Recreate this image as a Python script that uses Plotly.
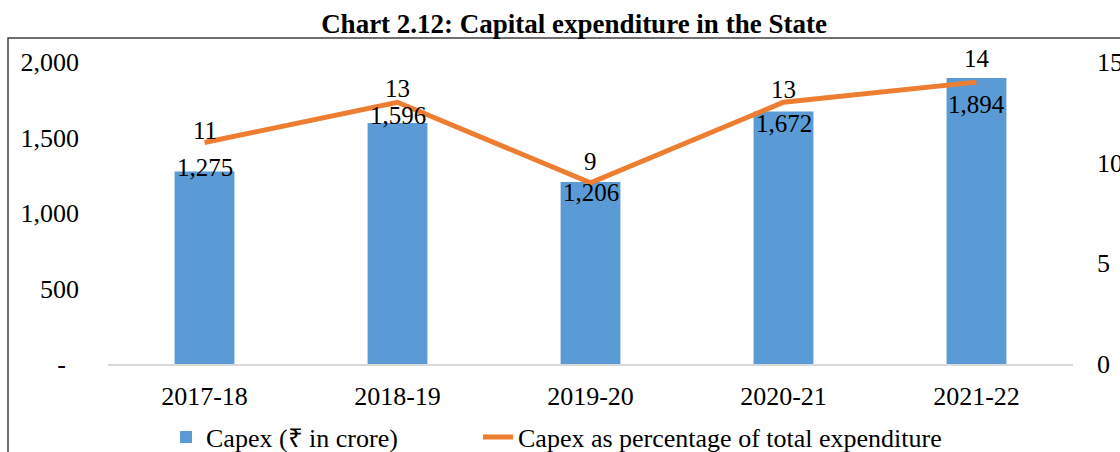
import plotly.graph_objects as go

# ---- data ----
years = ["2017-18", "2018-19", "2019-20", "2020-21", "2021-22"]
capex = [1275, 1596, 1206, 1672, 1894]
capex_pct = [11, 13, 9, 13, 14]
left_ticks = [0, 500, 1000, 1500, 2000]
left_ticktext = ["-\u00a0\u00a0", "500", "1,000", "1,500", "2,000"]
right_ticks = [0, 5, 10, 15]

# ---- label placement styles (pixel shifts of data labels) ----
bar_label_shift = [4, 8, -11, -12, -26]
pct_label_shift = [12, 14, 21, 13, 24]

FONT = "Liberation Serif, Times New Roman, serif"
BLUE = "#5B9BD5"
ORANGE = "#ED7D31"

fig = go.Figure()
fig.add_trace(go.Bar(
    x=years, y=capex, name="Capex (\u20b9 in crore)",
    marker=dict(color=BLUE, line=dict(width=0)),
    yaxis="y", legend="legend",
))
fig.add_trace(go.Scatter(
    x=years, y=capex_pct, name="Capex as percentage of total expenditure",
    mode="lines", line=dict(color=ORANGE, width=5),
    yaxis="y2", legend="legend2",
))

annotations = []
for yr, v, dy in zip(years, capex, bar_label_shift):
    annotations.append(dict(
        x=yr, y=v, xref="x", yref="y", text=f"{v:,}", showarrow=False,
        yanchor="middle", yshift=dy, font=dict(family=FONT, size=25, color="black"),
    ))
for yr, v, dy in zip(years, capex_pct, pct_label_shift):
    annotations.append(dict(
        x=yr, y=v, xref="x", yref="y2", text=f"{v}", showarrow=False,
        yanchor="middle", yshift=dy, font=dict(family=FONT, size=25, color="black"),
    ))

L, R, T, B = 108, 47, 62, 88
W, H = 1120, 452
pw, ph = W - L - R, H - T - B

def px_x(px):
    return (px - L) / pw

def px_y(py):
    return (H - B - py) / ph

legend_common = dict(
    orientation="h", xanchor="left", yanchor="middle",
    xref="container", yref="container", y=1 - 437 / H,
    font=dict(family=FONT, size=26, color="black"),
    bgcolor="rgba(0,0,0,0)", borderwidth=0,
)

fig.update_layout(
    template="none",
    width=W, height=H,
    margin=dict(l=L, r=R, t=T, b=B, pad=0, autoexpand=False),
    paper_bgcolor="white", plot_bgcolor="white",
    font=dict(family=FONT, size=26, color="black"),
    title=dict(
        text="<b>Chart 2.12: Capital expenditure in the State</b>",
        x=574 / W, xanchor="center", xref="container",
        y=1 - 24 / H, yanchor="middle", yref="container",
        font=dict(family=FONT, size=27, color="black"),
    ),
    bargap=0.69,
    showlegend=True,
    legend=dict(x=166 / W, **legend_common),
    legend2=dict(x=478 / W, **legend_common),
    xaxis=dict(
        type="category", showgrid=False, zeroline=False, automargin=False,
        showline=True, linecolor="#D9D9D9", linewidth=2,
        ticks="", ticklabelstandoff=8,
        tickfont=dict(family=FONT, size=26, color="black"),
    ),
    yaxis=dict(
        range=[0, 2000], tickvals=left_ticks, ticktext=left_ticktext,
        showgrid=False, zeroline=False, showline=False, ticks="", automargin=False,
        ticklabelstandoff=28,
        tickfont=dict(family=FONT, size=26, color="black"),
    ),
    yaxis2=dict(
        range=[0, 15], tickvals=right_ticks, overlaying="y", side="right",
        showgrid=False, zeroline=False, showline=False, ticks="", automargin=False,
        ticklabelstandoff=23,
        tickfont=dict(family=FONT, size=26, color="black"),
    ),
    annotations=annotations,
    shapes=[dict(
        type="rect", xref="paper", yref="paper",
        x0=px_x(8), x1=px_x(1140), y0=px_y(470), y1=px_y(38),
        line=dict(color="#404040", width=1.5), fillcolor="rgba(0,0,0,0)",
        layer="below",
    )],
)

fig.write_html(
    "out.html",
    config={"displayModeBar": False},
    post_script="document.body.style.margin='0';document.body.style.overflow='hidden';",
)
